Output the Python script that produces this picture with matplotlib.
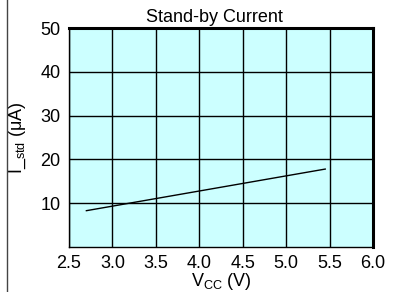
import matplotlib
matplotlib.use("Agg")
import matplotlib.pyplot as plt
from matplotlib.lines import Line2D

plt.rcParams["font.family"] = ["Liberation Sans", "DejaVu Sans"]
plt.rcParams["mathtext.fontset"] = "custom"
plt.rcParams["mathtext.rm"] = "Liberation Sans"

# data
vcc = [2.7, 5.45]
i_std = [8.3, 17.8]
x_ticks = [2.5, 3.0, 3.5, 4.0, 4.5, 5.0, 5.5, 6.0]
x_tick_labels = ["2.5", "3.0", "3.5", "4.0", "4.5", "5.0", "5.5", "6.0"]
y_ticks = [10, 20, 30, 40, 50]
y_tick_labels = ["10", "20", "30", "40", "50"]

fig = plt.figure(figsize=(4.19, 2.92), dpi=100)
ax = fig.add_axes([0.1647, 0.154, 0.7255, 0.750])
ax.set_facecolor("#ccffff")

ax.plot(vcc, i_std, color="black", linewidth=1.0, zorder=3)

ax.set_xlim(2.5, 6.0)
ax.set_ylim(0, 50)
ax.set_xticks(x_ticks)
ax.set_xticklabels(x_tick_labels)
ax.set_yticks(y_ticks)
ax.set_yticklabels(y_tick_labels)
ax.tick_params(length=0, labelsize=13, pad=6, colors="black")
ax.grid(True, color="black", linewidth=1.0)
ax.set_axisbelow(True)

for side in ["left", "bottom"]:
    ax.spines[side].set_linewidth(1.0)
for side in ["top", "right"]:
    ax.spines[side].set_linewidth(2.2)

ax.set_title("Stand-by Current", fontsize=13, pad=4, x=0.48)
ax.set_xlabel(r"V$\mathregular{_{CC}}$ (V)", fontsize=13, labelpad=-1)
ax.set_ylabel(r"I$\mathregular{\__{std}}$ (μA)", fontsize=13, labelpad=9)

# left page border
fig.add_artist(Line2D([7 / 419, 7 / 419], [0, 1], transform=fig.transFigure,
                      color="#444444", linewidth=1.0))

fig.savefig("out.png", dpi=100)
